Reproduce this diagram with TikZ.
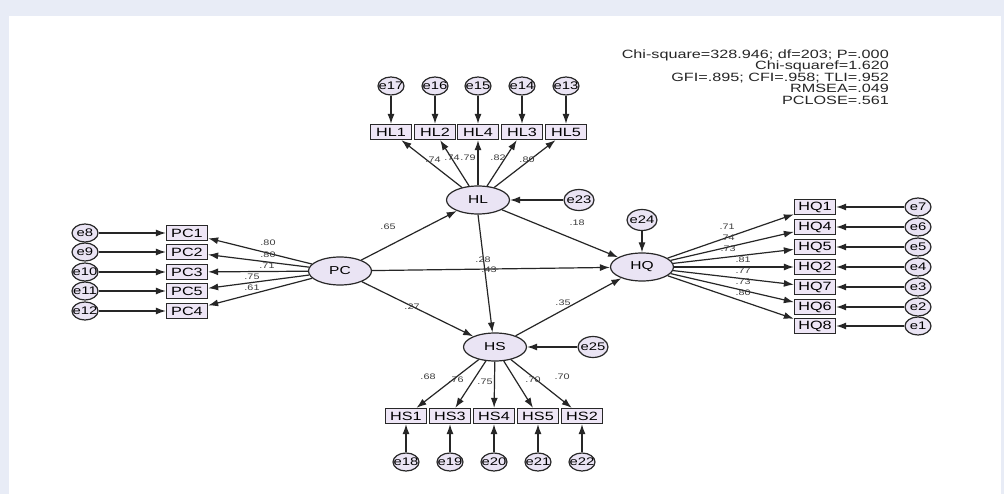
\documentclass[tikz,border=0pt]{standalone}
\usepackage{fontspec}
\setmainfont[FakeStretch=1.35]{Liberation Sans}
\usetikzlibrary{arrows.meta,shapes.geometric}
\definecolor{bgblue}{RGB}{232,236,246}
\definecolor{latf}{RGB}{234,228,244}
\definecolor{obsf}{RGB}{238,230,246}
\definecolor{linec}{RGB}{40,40,40}
\definecolor{labc}{RGB}{60,60,60}
\tikzset{
  lat/.style={ellipse, draw=linec, fill=latf, line width=1.2pt, minimum width=63pt, minimum height=28pt, inner sep=0pt, font=\fontsize{11.5}{12}\selectfont},
  obs/.style={rectangle, draw=linec, fill=obsf, line width=1.3pt, minimum width=41pt, minimum height=15pt, inner sep=0pt, font=\fontsize{12}{12}\selectfont},
  err/.style={ellipse, draw=linec, fill=latf, line width=1.2pt, minimum width=26pt, minimum height=18pt, inner xsep=-5pt, inner ysep=0pt, font=\fontsize{11}{11}\selectfont},
  errb/.style={err, minimum width=30pt, minimum height=21pt},
  lab/.style={font=\fontsize{8}{8}\selectfont, text=labc, inner sep=0pt},
  stat/.style={font=\fontsize{12}{12}\selectfont, text=black!85, inner sep=0pt, anchor=base east},
  arr/.style={-{Latex[length=10pt,width=7pt]}, line width=1.2pt, draw=black!85}
}
\begin{document}
\begin{tikzpicture}[x=1pt,y=-1pt]
\fill[bgblue] (0,0) rectangle (1004,494);
\fill[white] (9,16) rectangle (1001,494);
\useasboundingbox (0,0) rectangle (1004,494);

% stats
\node[stat] (s1) at (889,58.3) {Chi-square=328.946; df=203; P=.000};
\node[stat] (s2) at (889,70) {Chi-squaref=1.620};
\node[stat] (s3) at (889,81.5) {GFI=.895; CFI=.958; TLI=.952};
\node[stat] (s4) at (889,93) {RMSEA=.049};
\node[stat] (s5) at (889,104.5) {PCLOSE=.561};

% latent
\node[lat] (HL) at (478,200) {HL};
\node[lat] (PC) at (340,271) {PC};
\node[lat] (HQ) at (642,267) {HQ};
\node[lat] (HS) at (495,347) {HS};

% HL indicators
\foreach \n/\e/\x in {HL1/e17/391, HL2/e16/435, HL4/e15/478, HL3/e14/522, HL5/e13/566}{
  \node[obs] (\n) at (\x,132) {\n};
  \node[err] (\e) at (\x,86) {\e};
  \draw[arr] (\e) -- (\n);
  \draw[arr] (HL) -- (\n);
}
\node[errb] (e23) at (579,200) {e23};
\draw[arr] (e23) -- (HL);

% PC indicators
\foreach \n/\e/\y in {PC1/e8/233, PC2/e9/252, PC3/e10/272, PC5/e11/291, PC4/e12/311}{
  \node[obs] (\n) at (187,\y) {\n};
  \node[err] (\e) at (85,\y) {\e};
  \draw[arr] (\e) -- (\n);
  \draw[arr] (PC) -- (\n);
}

% HQ indicators
\foreach \n/\e/\y in {HQ1/e7/207, HQ4/e6/227, HQ5/e5/247, HQ2/e4/267, HQ7/e3/287, HQ6/e2/307, HQ8/e1/326}{
  \node[obs] (\n) at (815,\y) {\n};
  \node[err] (\e) at (918,\y) {\e};
  \draw[arr] (\e) -- (\n);
  \draw[arr] (HQ) -- (\n);
}
\node[errb] (e24) at (642,220) {e24};
\draw[arr] (e24) -- (HQ);

% HS indicators
\foreach \n/\e/\x in {HS1/e18/406, HS3/e19/450, HS4/e20/494, HS5/e21/538, HS2/e22/582}{
  \node[obs] (\n) at (\x,416) {\n};
  \node[err] (\e) at (\x,462) {\e};
  \draw[arr] (\e) -- (\n);
  \draw[arr] (HS) -- (\n);
}
\node[errb] (e25) at (593,347) {e25};
\draw[arr] (e25) -- (HS);

% structural paths
\draw[arr] (PC) -- (HL);
\draw[arr] (PC) -- (HQ);
\draw[arr] (PC) -- (HS);
\draw[arr] (HL) -- (HQ);
\draw[arr] (HL.south) -- (HS.100);
\draw[arr] (HS) -- (HQ);

% labels
\node[lab] (l1) at (433,160) {.74};
\node[lab] (l2) at (452,158) {.74};
\node[lab] (l3) at (468,158) {.79};
\node[lab] (l4) at (498,158) {.82};
\node[lab] (l5) at (527,160) {.80};

\node[lab] (p1) at (268,243) {.80};
\node[lab] (p2) at (268,254.5) {.80};
\node[lab] (p3) at (267,266) {.71};
\node[lab] (p4) at (252,277) {.75};
\node[lab] (p5) at (252,288) {.61};

\node[lab] (q1) at (727,227) {.71};
\node[lab] (q2) at (727,238) {.74};
\node[lab] (q3) at (728,249) {.73};
\node[lab] (q4) at (743,260) {.81};
\node[lab] (q5) at (743,271) {.77};
\node[lab] (q6) at (743,282) {.73};
\node[lab] (q7) at (743,293) {.80};

\node[lab] (c1) at (388,227) {.65};
\node[lab] (c2) at (577,223) {.18};
\node[lab] (c3) at (483,260) {.28};
\node[lab] (c4) at (489,270) {.43};
\node[lab] (c5) at (412,307) {.27};
\node[lab] (c6) at (563,303) {.35};

\node[lab] (h1) at (428,377) {.68};
\node[lab] (h2) at (456,380) {.76};
\node[lab] (h3) at (485,382) {.75};
\node[lab] (h4) at (533,380) {.70};
\node[lab] (h5) at (562,377) {.70};
\end{tikzpicture}
\end{document}
